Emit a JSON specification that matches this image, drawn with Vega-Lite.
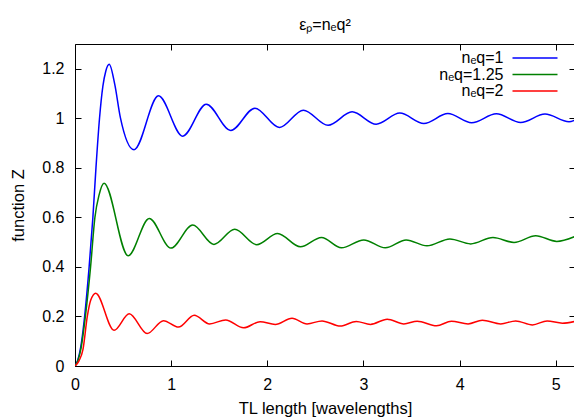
{
  "$schema": "https://vega.github.io/schema/vega-lite/v6.json",
  "width": 500,
  "height": 322,
  "autosize": {"type": "none"},
  "padding": {"left": 75, "top": 44, "right": 0, "bottom": 54},
  "title": {"text": "εₚ=nₑq²", "font": "Liberation Sans", "fontSize": 16, "fontWeight": "normal", "color": "black", "baseline": "alphabetic", "offset": -2, "anchor": "middle"},
  "datasets": {
    "curves": [
      {"series": "nₑq=1", "x": 0, "z": 0},
      {"series": "nₑq=1", "x": 0.03, "z": 0.025},
      {"series": "nₑq=1", "x": 0.059, "z": 0.075},
      {"series": "nₑq=1", "x": 0.1, "z": 0.2},
      {"series": "nₑq=1", "x": 0.147, "z": 0.4},
      {"series": "nₑq=1", "x": 0.186, "z": 0.6},
      {"series": "nₑq=1", "x": 0.218, "z": 0.8},
      {"series": "nₑq=1", "x": 0.255, "z": 1.0},
      {"series": "nₑq=1", "x": 0.29, "z": 1.13},
      {"series": "nₑq=1", "x": 0.32, "z": 1.19},
      {"series": "nₑq=1", "x": 0.356, "z": 1.218},
      {"series": "nₑq=1", "x": 0.413, "z": 1.138},
      {"series": "nₑq=1", "x": 0.472, "z": 1.003},
      {"series": "nₑq=1", "x": 0.614, "z": 0.873},
      {"series": "nₑq=1", "x": 0.868, "z": 1.091},
      {"series": "nₑq=1", "x": 1.12, "z": 0.928},
      {"series": "nₑq=1", "x": 1.365, "z": 1.057},
      {"series": "nₑq=1", "x": 1.62, "z": 0.951},
      {"series": "nₑq=1", "x": 1.871, "z": 1.041},
      {"series": "nₑq=1", "x": 2.126, "z": 0.963},
      {"series": "nₑq=1", "x": 2.375, "z": 1.033},
      {"series": "nₑq=1", "x": 2.632, "z": 0.972},
      {"series": "nₑq=1", "x": 2.882, "z": 1.026},
      {"series": "nₑq=1", "x": 3.132, "z": 0.976},
      {"series": "nₑq=1", "x": 3.378, "z": 1.021},
      {"series": "nₑq=1", "x": 3.628, "z": 0.979},
      {"series": "nₑq=1", "x": 3.878, "z": 1.019},
      {"series": "nₑq=1", "x": 4.125, "z": 0.982},
      {"series": "nₑq=1", "x": 4.382, "z": 1.018},
      {"series": "nₑq=1", "x": 4.635, "z": 0.983},
      {"series": "nₑq=1", "x": 4.888, "z": 1.017},
      {"series": "nₑq=1", "x": 5.138, "z": 0.986},
      {"series": "nₑq=1", "x": 5.2, "z": 0.993},

      {"series": "nₑq=1.25", "x": 0, "z": 0},
      {"series": "nₑq=1.25", "x": 0.03, "z": 0.022},
      {"series": "nₑq=1.25", "x": 0.062, "z": 0.07},
      {"series": "nₑq=1.25", "x": 0.108, "z": 0.2},
      {"series": "nₑq=1.25", "x": 0.162, "z": 0.4},
      {"series": "nₑq=1.25", "x": 0.207, "z": 0.6},
      {"series": "nₑq=1.25", "x": 0.25, "z": 0.69},
      {"series": "nₑq=1.25", "x": 0.302, "z": 0.738},
      {"series": "nₑq=1.25", "x": 0.553, "z": 0.445},
      {"series": "nₑq=1.25", "x": 0.772, "z": 0.596},
      {"series": "nₑq=1.25", "x": 0.997, "z": 0.476},
      {"series": "nₑq=1.25", "x": 1.224, "z": 0.569},
      {"series": "nₑq=1.25", "x": 1.445, "z": 0.491},
      {"series": "nₑq=1.25", "x": 1.661, "z": 0.552},
      {"series": "nₑq=1.25", "x": 1.89, "z": 0.49},
      {"series": "nₑq=1.25", "x": 2.107, "z": 0.535},
      {"series": "nₑq=1.25", "x": 2.344, "z": 0.481},
      {"series": "nₑq=1.25", "x": 2.563, "z": 0.519},
      {"series": "nₑq=1.25", "x": 2.771, "z": 0.477},
      {"series": "nₑq=1.25", "x": 3.003, "z": 0.509},
      {"series": "nₑq=1.25", "x": 3.227, "z": 0.477},
      {"series": "nₑq=1.25", "x": 3.444, "z": 0.509},
      {"series": "nₑq=1.25", "x": 3.66, "z": 0.485},
      {"series": "nₑq=1.25", "x": 3.899, "z": 0.513},
      {"series": "nₑq=1.25", "x": 4.115, "z": 0.493},
      {"series": "nₑq=1.25", "x": 4.347, "z": 0.519},
      {"series": "nₑq=1.25", "x": 4.566, "z": 0.499},
      {"series": "nₑq=1.25", "x": 4.792, "z": 0.526},
      {"series": "nₑq=1.25", "x": 5.01, "z": 0.503},
      {"series": "nₑq=1.25", "x": 5.2, "z": 0.523},

      {"series": "nₑq=2", "x": 0, "z": 0},
      {"series": "nₑq=2", "x": 0.04, "z": 0.02},
      {"series": "nₑq=2", "x": 0.083, "z": 0.067},
      {"series": "nₑq=2", "x": 0.128, "z": 0.2},
      {"series": "nₑq=2", "x": 0.163, "z": 0.265},
      {"series": "nₑq=2", "x": 0.215, "z": 0.294},
      {"series": "nₑq=2", "x": 0.406, "z": 0.144},
      {"series": "nₑq=2", "x": 0.564, "z": 0.211},
      {"series": "nₑq=2", "x": 0.75, "z": 0.131},
      {"series": "nₑq=2", "x": 0.92, "z": 0.183},
      {"series": "nₑq=2", "x": 1.076, "z": 0.157},
      {"series": "nₑq=2", "x": 1.24, "z": 0.205},
      {"series": "nₑq=2", "x": 1.4, "z": 0.17},
      {"series": "nₑq=2", "x": 1.567, "z": 0.186},
      {"series": "nₑq=2", "x": 1.753, "z": 0.154},
      {"series": "nₑq=2", "x": 1.925, "z": 0.179},
      {"series": "nₑq=2", "x": 2.083, "z": 0.168},
      {"series": "nₑq=2", "x": 2.257, "z": 0.193},
      {"series": "nₑq=2", "x": 2.413, "z": 0.17},
      {"series": "nₑq=2", "x": 2.569, "z": 0.182},
      {"series": "nₑq=2", "x": 2.76, "z": 0.161},
      {"series": "nₑq=2", "x": 2.925, "z": 0.18},
      {"series": "nₑq=2", "x": 3.073, "z": 0.168},
      {"series": "nₑq=2", "x": 3.247, "z": 0.189},
      {"series": "nₑq=2", "x": 3.42, "z": 0.17},
      {"series": "nₑq=2", "x": 3.559, "z": 0.181},
      {"series": "nₑq=2", "x": 3.76, "z": 0.162},
      {"series": "nₑq=2", "x": 3.915, "z": 0.181},
      {"series": "nₑq=2", "x": 4.088, "z": 0.17},
      {"series": "nₑq=2", "x": 4.236, "z": 0.185},
      {"series": "nₑq=2", "x": 4.427, "z": 0.17},
      {"series": "nₑq=2", "x": 4.583, "z": 0.182},
      {"series": "nₑq=2", "x": 4.757, "z": 0.166},
      {"series": "nₑq=2", "x": 4.91, "z": 0.182},
      {"series": "nₑq=2", "x": 5.069, "z": 0.173},
      {"series": "nₑq=2", "x": 5.2, "z": 0.18}
    ]
  },
  "data": {"name": "curves"},
  "layer": [
    {
      "mark": {"type": "line", "interpolate": "monotone", "strokeWidth": 1.5, "clip": true},
      "encoding": {
        "x": {"field": "x", "type": "quantitative", "scale": {"domain": [0, 5.2], "nice": false, "zero": false},
              "axis": {"orient": "bottom", "title": "TL length [wavelengths]", "values": [0, 1, 2, 3, 4, 5], "format": "~g", "labelFlush": false, "labelPadding": 16, "titlePadding": 8}},
        "y": {"field": "z", "type": "quantitative", "scale": {"domain": [0, 1.3], "nice": false},
              "axis": {"orient": "left", "title": "function Z", "values": [0, 0.2, 0.4, 0.6, 0.8, 1, 1.2], "format": "~g", "labelFlush": false, "labelPadding": 17, "titlePadding": 15}},
        "color": {"field": "series", "type": "nominal",
                  "scale": {"domain": ["nₑq=1", "nₑq=1.25", "nₑq=2"], "range": ["#0000ff", "#008000", "#ff0000"]},
                  "legend": {"title": null, "orient": "none", "legendX": 452, "legendY": 6}},
        "order": {"field": "x", "type": "quantitative"}
      }
    },
    {
      "mark": {"type": "line", "opacity": 0},
      "encoding": {
        "x": {"field": "x", "type": "quantitative", "axis": {"orient": "top", "title": null, "labels": false, "values": [0, 1, 2, 3, 4, 5]}},
        "y": {"field": "z", "type": "quantitative", "axis": {"orient": "right", "title": null, "labels": false, "values": [0, 0.2, 0.4, 0.6, 0.8, 1, 1.2]}}
      }
    }
  ],
  "config": {
    "view": {"stroke": "black", "strokeWidth": 1},
    "axis": {
      "domain": false, "grid": false, "ticks": true, "tickSize": -6, "tickColor": "black", "tickWidth": 1,
      "labelFont": "Liberation Sans", "labelFontSize": 16, "labelColor": "black",
      "titleFont": "Liberation Sans", "titleFontSize": 16.5, "titleFontWeight": "normal", "titleColor": "black"
    },
    "legend": {
      "symbolType": "M-3.75,0H3.75", "symbolSize": 144, "symbolStrokeWidth": 1.5, "symbolFillColor": "transparent",
      "labelAlign": "right", "labelOffset": -39.5, "labelFont": "Liberation Sans", "labelFontSize": 16, "labelColor": "black",
      "rowPadding": 0.5, "padding": 0
    }
  }
}
